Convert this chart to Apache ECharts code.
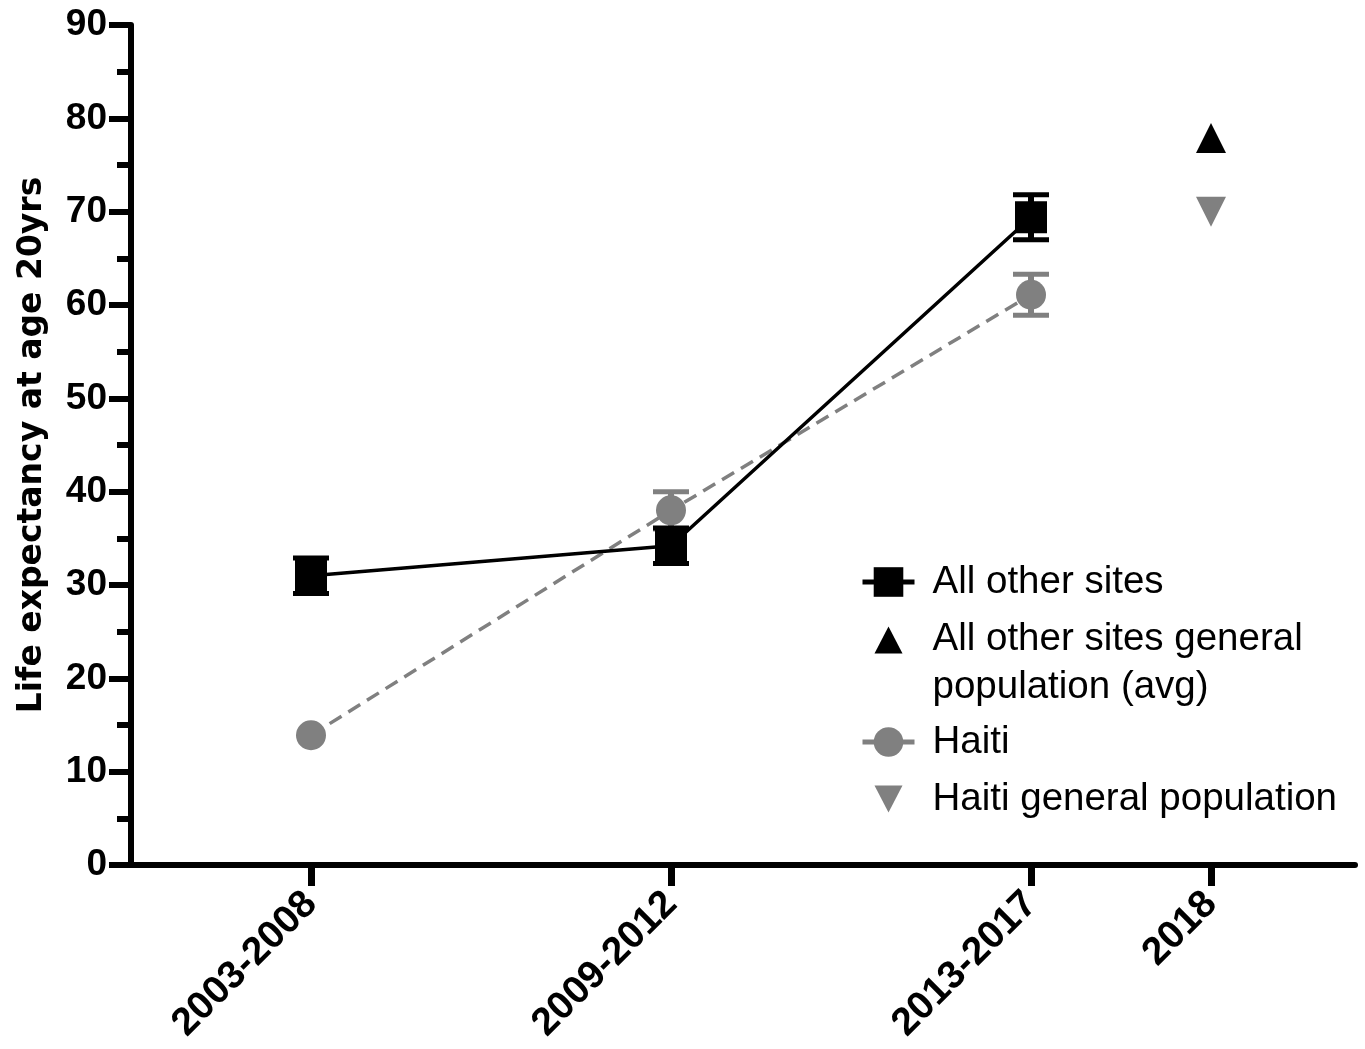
<!DOCTYPE html>
<html>
<head>
<meta charset="utf-8">
<title>Life expectancy at age 20yrs</title>
<script src="https://cdn.jsdelivr.net/npm/echarts@6/dist/echarts.min.js"></script>
<style>
  html, body { margin: 0; padding: 0; background: #fff; }
  #chart { width: 1365px; height: 1049px; }
</style>
</head>
<body>
<div id="chart"></div>
<script>
// Time periods and where each one sits along the x axis (in period-width units)
const periods = ['2003-2008', '2009-2012', '2013-2017', '2018'];
const periodSlots = [1, 3, 5, 6];

// Life expectancy at age 20 (years), with +/- error for each cohort period
const otherSites = [31.0, 34.2, 69.4];
const otherSitesErr = [1.9, 1.9, 2.4];
const haiti = [13.9, 38.0, 61.1];
const haitiErr = [0, 2.0, 2.2];

// General population reference values (2018)
const otherSitesGeneral = [77.9];
const haitiGeneral = [70.0];

// y axis range
const yMin = 0, yMax = 90, yStep = 10;

const BLACK = '#000000';
const GREY = '#808080';
const TICK_FONT = 'Liberation Sans, Arial, sans-serif';

function points(values) {
  return values.map((v, i) => [periodSlots[i], v]);
}
function bars(values, errs) {
  return values
    .map((v, i) => [periodSlots[i], v - errs[i], v + errs[i]])
    .filter((d, i) => errs[i] > 0);
}

function errorBarRenderer(color) {
  return function (params, api) {
    const x = api.value(0);
    const lo = api.coord([x, api.value(1)]);
    const hi = api.coord([x, api.value(2)]);
    const half = 18;
    const style = { stroke: color, lineWidth: 5, lineCap: 'butt' };
    return {
      type: 'group',
      children: [
        { type: 'line', shape: { x1: hi[0], y1: hi[1], x2: lo[0], y2: lo[1] }, style: { stroke: color, lineWidth: 6 } },
        { type: 'line', shape: { x1: hi[0] - half, y1: hi[1], x2: hi[0] + half, y2: hi[1] }, style: style },
        { type: 'line', shape: { x1: lo[0] - half, y1: lo[1], x2: lo[0] + half, y2: lo[1] }, style: style }
      ]
    };
  };
}

const NAME_OTHER = 'All other sites';
const NAME_OTHER_GEN = 'All other sites general population (avg)';
const NAME_HAITI = 'Haiti';
const NAME_HAITI_GEN = 'Haiti general population';

// Triangle legend icons, padded inside a 37x37 box so they render smaller than the box
const ICON_UP = 'path://M0,0L0,0M37,37L37,37M4.5,32L18.5,5L32.5,32Z';
const ICON_DOWN = 'path://M0,0L0,0M37,37L37,37M4.5,5L32.5,5L18.5,32Z';
const DOWN_TRIANGLE = 'path://M0,0L10,0L5,10Z';

const LEGEND_FONT = 38.5;
const legendText = {
  fontSize: LEGEND_FONT,
  fontFamily: TICK_FONT,
  color: '#000',
  lineHeight: 44,
  padding: [0, 0, 0, 13],
  rich: {
    a: { fontSize: LEGEND_FONT, fontFamily: TICK_FONT, color: '#000', lineHeight: 94 },
    b: { fontSize: LEGEND_FONT, fontFamily: TICK_FONT, color: '#000', lineHeight: 1 }
  }
};
function legendFormatter(name) {
  if (name === NAME_OTHER_GEN) {
    return '{a|All other sites general}\n{b|population (avg)}';
  }
  return name;
}
const legendBase = {
  orient: 'vertical',
  left: 860,
  padding: 0,
  itemWidth: 52,
  itemHeight: 37,
  textStyle: legendText,
  formatter: legendFormatter
};

const chart = echarts.init(document.getElementById('chart'), null, { renderer: 'canvas' });

chart.setOption({
  animation: false,
  backgroundColor: '#fff',
  grid: { left: 131, right: 10, top: 25, bottom: 184, containLabel: false },
  legend: [
    Object.assign({}, legendBase, {
      top: 560,
      itemGap: -11.5,
      data: [
        { name: NAME_OTHER, lineStyle: { width: 5, type: 'solid' } },
        { name: NAME_OTHER_GEN, icon: ICON_UP, itemStyle: { color: BLACK, opacity: 1 } }
      ]
    }),
    Object.assign({}, legendBase, {
      top: 720,
      itemGap: 13,
      data: [
        { name: NAME_HAITI, lineStyle: { width: 5, type: 'solid' } },
        { name: NAME_HAITI_GEN, icon: ICON_DOWN, itemStyle: { color: GREY, opacity: 1 } }
      ]
    })
  ],
  xAxis: {
    type: 'value',
    min: 0,
    max: 6.8,
    splitLine: { show: false },
    axisLine: { show: true, onZero: false, lineStyle: { color: BLACK, width: 6 } },
    axisTick: {
      show: true,
      customValues: periodSlots,
      length: 21,
      lineStyle: { color: BLACK, width: 7 }
    },
    axisLabel: {
      show: true,
      customValues: periodSlots,
      rotate: 45,
      margin: 33,
      fontSize: 39,
      fontWeight: 'bold',
      fontFamily: TICK_FONT,
      color: BLACK,
      formatter: function (v) {
        const i = periodSlots.indexOf(v);
        return i >= 0 ? periods[i] : '';
      }
    }
  },
  yAxis: {
    type: 'value',
    min: yMin,
    max: yMax,
    interval: yStep,
    name: 'Life expectancy at age 20yrs',
    nameLocation: 'middle',
    nameRotate: 90,
    nameGap: 82,
    nameTextStyle: {
      fontSize: 33,
      fontWeight: 'bold',
      fontFamily: 'DejaVu Sans, sans-serif',
      color: BLACK
    },
    splitLine: { show: false },
    axisLine: { show: true, lineStyle: { color: BLACK, width: 6 } },
    axisTick: { show: true, length: 22, lineStyle: { color: BLACK, width: 6 } },
    minorTick: { show: true, splitNumber: 2, length: 14, lineStyle: { color: BLACK, width: 6 } },
    axisLabel: {
      margin: 24,
      fontSize: 37,
      fontWeight: 'bold',
      fontFamily: TICK_FONT,
      color: BLACK
    }
  },
  series: [
    {
      name: NAME_HAITI,
      type: 'line',
      data: points(haiti),
      symbol: 'circle',
      symbolSize: 30,
      color: GREY,
      itemStyle: { color: GREY },
      lineStyle: { color: GREY, width: 3.5, type: [14, 8] },
      z: 2
    },
    {
      name: NAME_HAITI,
      type: 'custom',
      data: bars(haiti, haitiErr),
      renderItem: errorBarRenderer(GREY),
      encode: { x: 0, y: [1, 2] },
      color: GREY,
      z: 2
    },
    {
      name: NAME_OTHER,
      type: 'line',
      data: points(otherSites),
      symbol: 'rect',
      symbolSize: 32,
      color: BLACK,
      itemStyle: { color: BLACK },
      lineStyle: { color: BLACK, width: 3.5 },
      z: 3
    },
    {
      name: NAME_OTHER,
      type: 'custom',
      data: bars(otherSites, otherSitesErr),
      renderItem: errorBarRenderer(BLACK),
      encode: { x: 0, y: [1, 2] },
      color: BLACK,
      z: 3
    },
    {
      name: NAME_OTHER_GEN,
      type: 'scatter',
      data: otherSitesGeneral.map(v => [periodSlots[3], v]),
      symbol: 'triangle',
      symbolSize: 30,
      color: BLACK,
      itemStyle: { color: BLACK, opacity: 1 },
      z: 3
    },
    {
      name: NAME_HAITI_GEN,
      type: 'scatter',
      data: haitiGeneral.map(v => [periodSlots[3], v]),
      symbol: DOWN_TRIANGLE,
      symbolSize: 30,
      color: GREY,
      itemStyle: { color: GREY, opacity: 1 },
      z: 3
    }
  ]
});
</script>
</body>
</html>
